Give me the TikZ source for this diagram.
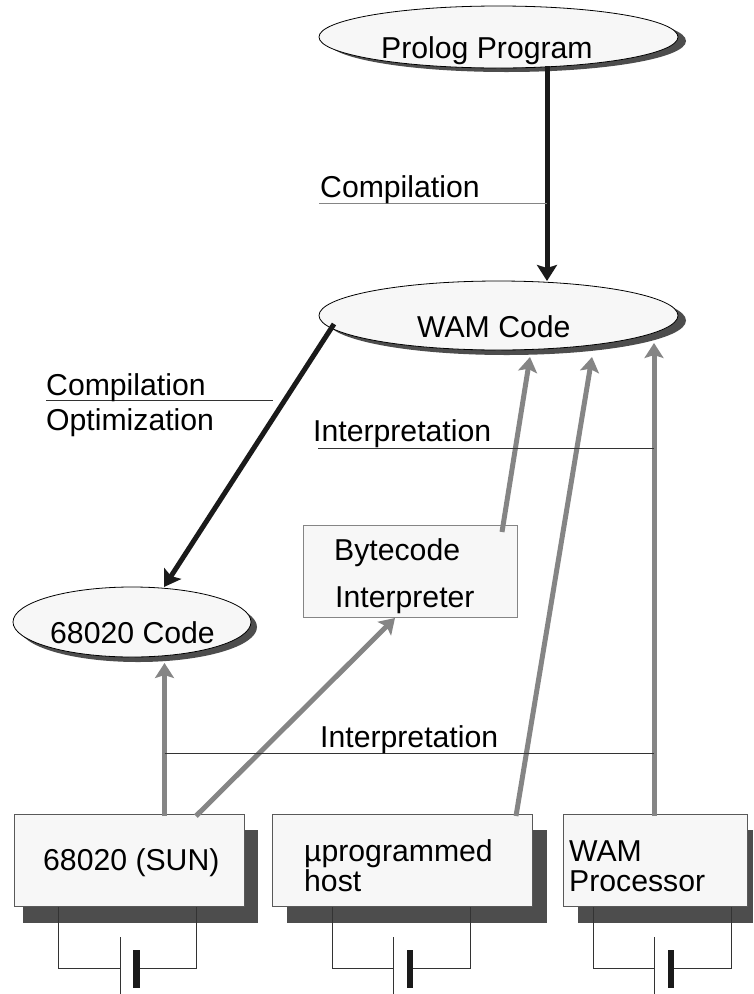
\documentclass[tikz,border=0pt]{standalone}
\usepackage{fontspec}
\setmainfont{Liberation Sans}
\usetikzlibrary{arrows.meta, shapes.geometric}
\definecolor{shadegray}{HTML}{4D4D4D}
\definecolor{pale}{HTML}{F7F7F7}
\definecolor{arrowgray}{HTML}{858585}
\definecolor{arrowblack}{HTML}{1A1A1A}
\tikzset{
    caption/.style={anchor=base west, inner sep=0pt, font=\fontsize{30.2}{36}\selectfont},
    code/.style={ellipse, draw=black, line width=0.8pt, fill=pale, inner sep=0pt},
    codeshade/.style={ellipse, fill=shadegray, inner sep=0pt},
    machine/.style={rectangle, draw=black!65, line width=1pt, fill=pale, inner sep=0pt, anchor=north west},
    strong/.style={line width=5pt, arrowblack, -{Stealth[length=16pt,width=20pt,inset=3pt]}},
    weak/.style={line width=5pt, arrowgray, -{Stealth[length=15pt,width=19pt,inset=3pt]}},
    wire/.style={line width=1pt, black!80},
}
\begin{document}
\begin{tikzpicture}[x=1pt, y=-1pt]
    \useasboundingbox (0,0) rectangle (753,994);

    % Shadows
    \fill[shadegray] (23,830) rectangle (258,923);
    \fill[shadegray] (287,830) rectangle (546.5,923);
    \fill[shadegray] (578,830) rectangle (753,923);
    \node[codeshade, minimum width=359pt, minimum height=62pt] at (506.5,41) {};
    \node[codeshade, minimum width=359pt, minimum height=69pt] at (506.5,320.5) {};
    \node[codeshade, minimum width=238pt, minimum height=70pt] at (138,627) {};

    % Code ellipses
    \node[code, minimum width=359pt, minimum height=62pt] (prolog) at (498.5,37) {};
    \node[code, minimum width=359pt, minimum height=69pt] (wam) at (498.5,315.5) {};
    \node[code, minimum width=238pt, minimum height=70pt] (mc) at (132,622) {};
    \node[caption] at (381,58) {Prolog Program};
    \node[caption] at (417,337) {WAM Code};
    \node[caption] at (50,643) {68020 Code};

    % Bytecode box
    \node[machine, draw=arrowgray, minimum width=214.5pt, minimum height=92pt] (byte) at (302.5,525) {};
    \node[caption] at (334,560) {Bytecode};
    \node[caption] at (335,607) {Interpreter};

    % Machines
    \node[machine, minimum width=230pt, minimum height=92pt] (sun) at (13.5,814) {};
    \node[machine, minimum width=260pt, minimum height=92pt] (micro) at (272,814) {};
    \node[machine, minimum width=184pt, minimum height=92pt] (proc) at (563,814) {};
    \node[caption] at (43,870) {68020 (SUN)};
    \node[caption] at (304,861) {µprogrammed};
    \node[caption] at (304,891) {host};
    \node[caption] at (569,861) {WAM};
    \node[caption] at (569,891) {Processor};

    % Batteries
    \foreach \n/\l in {sun/45, micro/60, proc/30}{
        \draw[wire] ([xshift=\l pt]\n.south west) -- ++(0,61) -- ++(61.5,0);
        \draw[wire] ([xshift=\l pt+138pt]\n.south west) -- ++(0,61) -- ++(-61,0);
        \draw[wire] ([xshift=\l pt+61.5pt,yshift=-30pt]\n.south west) -- ++(0,58);
        \fill[arrowblack] ([xshift=\l pt+74.5pt,yshift=-43pt]\n.south west) rectangle ++(6.5,38);
    }

    % End points on the nodes
    \coordinate (prologOut) at (547,66);
    \coordinate (wamIn) at (547,281);
    \coordinate (wamOut) at (334,324);
    \coordinate (mcIn) at (164,587);
    \coordinate (mcUp) at (164.5,663);
    \coordinate (byteIn) at (395,618);
    \coordinate (byteOut) at (502,532);
    \coordinate (wamA) at (530,357);
    \coordinate (wamB) at (592,357);
    \coordinate (wamC) at (654,343);
    \coordinate (sunA) at (164.5,816);
    \coordinate (sunB) at (196,816);
    \coordinate (microA) at (516,816);
    \coordinate (procA) at (654,816);

    % Arrows
    \draw[strong] (prologOut) -- (wamIn);
    \draw[strong] (wamOut) -- (mcIn);
    \draw[weak] (sunA) -- (mcUp);
    \draw[weak] (sunB) -- (byteIn);
    \draw[weak] (byteOut) -- (wamA);
    \draw[weak] (microA) -- (wamB);
    \draw[weak] (procA) -- (wamC);

    % Captions with their lines
    \coordinate (compEnd) at (547,203);
    \coordinate (compStart) at (319,203);
    \draw[line width=1pt, arrowgray] (compStart) -- (compEnd);
    \node[caption] at (320,197) {Compilation};

    \coordinate (optStart) at (46,400);
    \coordinate (optEnd) at (273,400);
    \draw[wire] (optStart) -- (optEnd);
    \node[caption] at (46,395) {Compilation};
    \node[caption] at (46,430) {Optimization};

    \coordinate (intA) at (318,448);
    \coordinate (intB) at (654,448);
    \draw[wire] (intA) -- (intB);
    \node[caption] at (313,441) {Interpretation};

    \coordinate (intC) at (164.5,753);
    \coordinate (intD) at (654,753);
    \draw[wire] (intC) -- (intD);
    \node[caption] at (320,747) {Interpretation};
\end{tikzpicture}
\end{document}
